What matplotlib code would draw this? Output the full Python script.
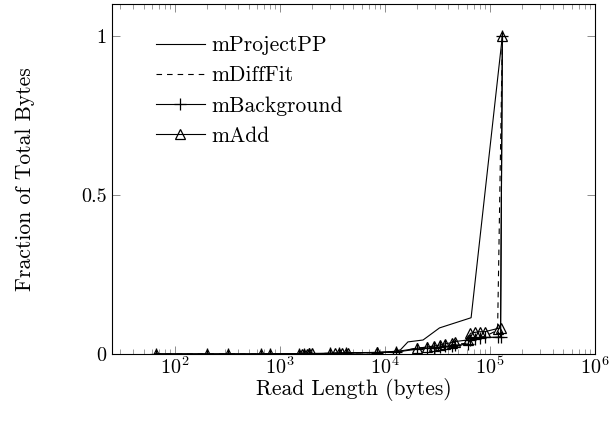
import numpy as np
import matplotlib
matplotlib.use("Agg")
import matplotlib.pyplot as plt
from matplotlib.ticker import LogLocator, NullFormatter

plt.rcParams['font.family'] = 'serif'
plt.rcParams['font.serif'] = ['cmr10', 'DejaVu Serif']
plt.rcParams['mathtext.fontset'] = 'cm'
plt.rcParams['axes.formatter.use_mathtext'] = True

# read lengths (bytes) and cumulative fraction of bytes
proj_x = [65, 200, 320, 650, 800, 1500, 2000, 3300, 4400, 8300, 12000, 14000,
          16500, 23000, 33000, 66000, 131072]
proj_y = [0.0, 0.0, 0.0, 0.0, 0.0, 0.001, 0.001, 0.002, 0.003, 0.005, 0.008, 0.013,
          0.038, 0.044, 0.082, 0.114, 1.0]

diff_x = [65, 200, 320, 650, 800, 1500, 2000, 3300, 4400, 8300, 12600, 20000,
          33000, 46000, 61000, 65000, 89000, 118000, 131072]
diff_y = [0.0, 0.0, 0.0, 0.0, 0.0, 0.001, 0.001, 0.002, 0.003, 0.004, 0.006, 0.018,
          0.024, 0.03, 0.034, 0.05, 0.055, 0.075, 1.0]

bg_x = [65, 200, 320, 650, 800, 1500, 1700, 1900, 3000, 3600, 4200, 8300, 12600,
        20000, 25000, 29000, 33000, 37500, 43500, 46000, 61000, 65000, 72000,
        80000, 89000, 118000, 126000, 131072]
bg_y = [0.0, 0.0, 0.0, 0.0, 0.0, 0.001, 0.001, 0.001, 0.002, 0.002, 0.003, 0.004,
        0.006, 0.015, 0.018, 0.02, 0.022, 0.024, 0.026, 0.028, 0.03, 0.045, 0.048,
        0.05, 0.052, 0.053, 0.055, 1.0]

add_x = [65, 200, 320, 650, 800, 1500, 1600, 1700, 1800, 1900, 2000, 3000, 3300,
         3600, 3900, 4200, 4400, 8300, 12600, 20000, 25000, 29000, 33000, 37500,
         43500, 46000, 61000, 65000, 72000, 80000, 89000, 118000, 126000, 131072]
add_y = [0.0, 0.0, 0.0, 0.0, 0.001, 0.001, 0.001, 0.001, 0.001, 0.002, 0.002, 0.002,
         0.003, 0.003, 0.003, 0.004, 0.004, 0.005, 0.007, 0.018, 0.022, 0.025, 0.028,
         0.032, 0.036, 0.039, 0.044, 0.065, 0.068, 0.07, 0.07, 0.08, 0.082, 1.0]

fig = plt.figure(figsize=(6.1, 4.3), dpi=100)
ax = fig.add_axes([112/610, 76/430, 483/610, 350/430])

ax.plot(proj_x, proj_y, '-', color='black', lw=0.8, label='mProjectPP')
ax.plot(diff_x, diff_y, color='black', lw=0.8, dashes=(5, 4.5), label='mDiffFit')
ax.plot(bg_x, bg_y, '-', color='black', lw=0.8, marker='+', ms=9, mew=0.9,
        label='mBackground')
ax.plot(add_x, add_y, '-', color='black', lw=0.8, marker='^', ms=6.5, mew=0.9,
        mfc='none', label='mAdd')

ax.set_xscale('log')
ax.set_xlim(25, 1e6)
ax.set_ylim(0, 1.1)
ax.set_yticks([0, 0.5, 1])
ax.set_yticklabels(['0', '0.5', '1'])
ax.xaxis.set_major_locator(LogLocator(base=10, numticks=10))
ax.xaxis.set_minor_locator(LogLocator(base=10, subs=np.arange(2, 10), numticks=20))
ax.xaxis.set_minor_formatter(NullFormatter())
ax.tick_params(which='both', direction='in', top=True, right=True,
               color='0.55', labelsize=14.5)
ax.tick_params(axis='x', pad=2)
ax.tick_params(axis='y', pad=4)
ax.tick_params(which='major', length=6, width=0.7)
ax.tick_params(which='minor', length=3.5, width=0.6)
for s in ax.spines.values():
    s.set_linewidth(0.8)

ax.set_xlabel('Read Length (bytes)', fontsize=15.5, labelpad=0)
ax.set_ylabel('Fraction of Total Bytes', fontsize=15.5, labelpad=33)

ax.legend(loc='upper left', frameon=False, fontsize=15.5, handlelength=2.3,
          handletextpad=0.3, labelspacing=0.5, bbox_to_anchor=(0.05, 0.965))

fig.savefig('out.png', dpi=100)
